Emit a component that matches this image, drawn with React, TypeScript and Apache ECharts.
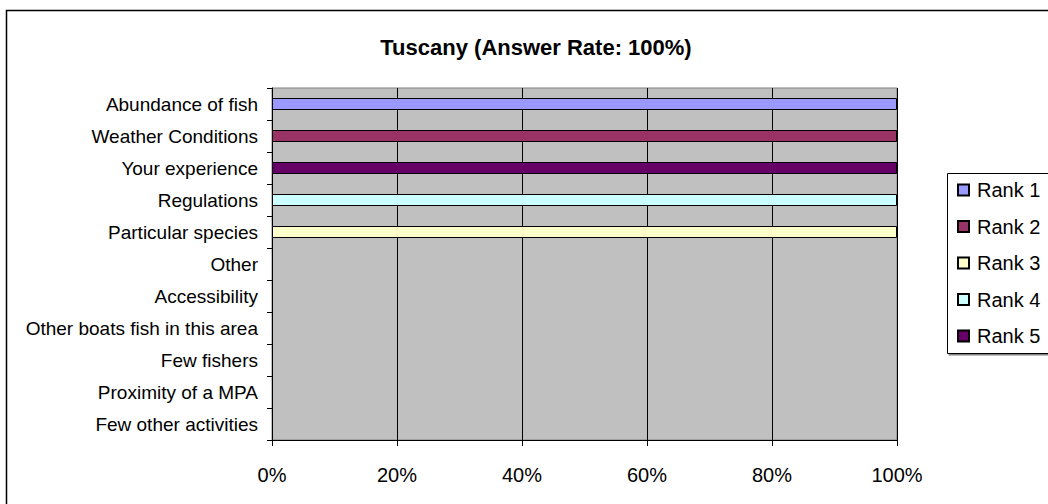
import React, { useEffect, useRef } from "react";
import * as echarts from "echarts";

const categories = [
  "Abundance of fish",
  "Weather Conditions",
  "Your experience",
  "Regulations",
  "Particular species",
  "Other",
  "Accessibility",
  "Other boats fish in this area",
  "Few fishers",
  "Proximity of a MPA",
  "Few other activities",
];
const rank1 = [100, 0, 0, 0, 0, 0, 0, 0, 0, 0, 0];
const rank2 = [0, 100, 0, 0, 0, 0, 0, 0, 0, 0, 0];
const rank3 = [0, 0, 0, 0, 100, 0, 0, 0, 0, 0, 0];
const rank4 = [0, 0, 0, 100, 0, 0, 0, 0, 0, 0, 0];
const rank5 = [0, 0, 100, 0, 0, 0, 0, 0, 0, 0, 0];
const seriesNames = ["Rank 1", "Rank 2", "Rank 3", "Rank 4", "Rank 5"];
const seriesValues = [rank1, rank2, rank3, rank4, rank5];
const colors = ["#9999FF", "#993366", "#FFFFCC", "#CCFFFF", "#660066"];
const titleText = "Tuscany (Answer Rate: 100%)";

const FONT = "'Liberation Sans', Arial, sans-serif";

export default function App() {
  const ref = useRef<HTMLDivElement>(null);
  useEffect(() => {
    if (!ref.current) return;
    const chart = echarts.init(ref.current, null, { renderer: "svg" });
    chart.setOption({
      animation: false,
      backgroundColor: "#ffffff",
      textStyle: { fontFamily: FONT },
      title: {
        text: titleText,
        left: 531,
        top: 31,
        textAlign: "center",
        textStyle: { fontFamily: FONT, fontSize: 22, fontWeight: "bold", color: "#000" },
      },
      graphic: [
        {
          type: "rect",
          z: 0,
          shape: { x: 6.5, y: 10.5, width: 1200, height: 700 },
          style: { fill: "none", stroke: "#000", lineWidth: 1.5 },
        },
        {
          type: "rect",
          z: 0,
          shape: { x: 947.5, y: 173.5, width: 200, height: 180 },
          style: {
            fill: "#fff",
            stroke: "#000",
            lineWidth: 1,
            shadowColor: "#808080",
            shadowOffsetX: 1.5,
            shadowOffsetY: 1.5,
            shadowBlur: 0,
          },
        },
      ],
      legend: {
        orient: "vertical",
        left: 957,
        top: 180,
        padding: 0,
        z: 10,
        itemWidth: 11,
        itemHeight: 11,
        itemGap: 16.5,
        icon: "rect",
        data: seriesNames,
        textStyle: { fontFamily: FONT, fontSize: 20, color: "#000", padding: [0, 0, 0, 3] },
      },
      grid: {
        left: 272,
        top: 88,
        width: 625,
        height: 352,
        show: true,
        backgroundColor: "#C0C0C0",
        borderColor: "#808080",
        borderWidth: 1,
      },
      xAxis: {
        type: "value",
        min: 0,
        max: 100,
        interval: 20,
        axisLine: { show: true, lineStyle: { color: "#000", width: 1 } },
        axisTick: { show: true, length: 6, lineStyle: { color: "#000" } },
        splitLine: { show: true, lineStyle: { color: "#000", width: 1 } },
        axisLabel: {
          formatter: "{value}%",
          fontFamily: FONT,
          fontSize: 20,
          color: "#000",
          margin: 25,
        },
      },
      yAxis: {
        type: "category",
        inverse: true,
        data: categories,
        axisLine: { show: true, lineStyle: { color: "#000", width: 1 } },
        axisTick: { show: true, length: 5, lineStyle: { color: "#000" } },
        splitLine: { show: false },
        axisLabel: { fontFamily: FONT, fontSize: 19, color: "#000", margin: 14 },
      },
      series: seriesNames.map((name, i) => ({
        name,
        type: "bar",
        stack: "total",
        barWidth: 12,
        itemStyle: { color: colors[i], borderColor: "#000", borderWidth: 1 },
        data: seriesValues[i].map((v) => (v === 0 ? null : v)),
      })),
    });
    return () => chart.dispose();
  }, []);
  return (
    <div
      ref={ref}
      style={{ position: "fixed", left: 0, top: 0, width: 1048, height: 504 }}
    />
  );
}
